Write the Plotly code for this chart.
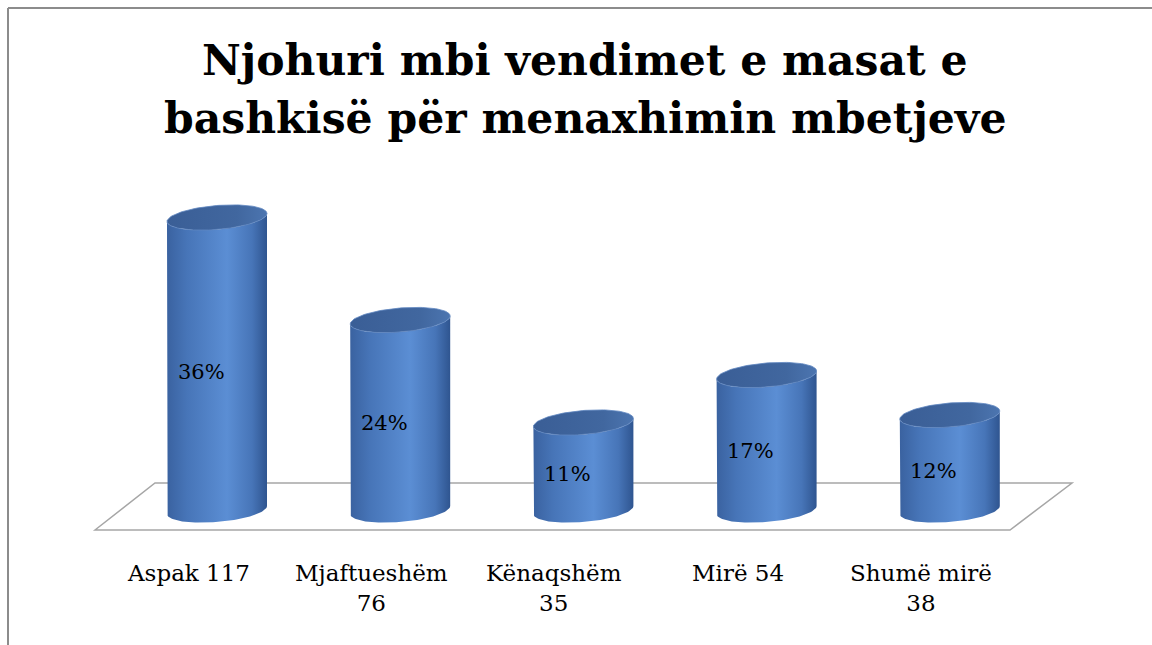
import numpy as np
import plotly.graph_objects as go

# ---- data ----
categories = ["Aspak 117", "Mjaftueshëm<br>76", "Kënaqshëm<br>35", "Mirë 54", "Shumë mirë<br>38"]
counts = [117, 76, 35, 54, 38]
pct_labels = ["36%", "24%", "11%", "17%", "12%"]
title_lines = ["Njohuri mbi vendimet e masat e", "bashkisë për menaxhimin mbetjeve"]

# ---- geometry (pixel scale helpers) ----
W, H = 1152, 645
X0_PX, DX_PX = 217.0, 183.2      # pixel of category 0, pixel step per category
Y0_PX, DY_PX = 510.0, 2.5        # pixel of value 0, pixels per unit
x_range = [(0 - X0_PX) / DX_PX, (W - X0_PX) / DX_PX]
y_range = [(Y0_PX - H) / DY_PX, (Y0_PX - 0) / DY_PX]

RX = 50 / DX_PX      # cylinder radius in x data units
RY = 12 / DY_PX      # ellipse half-height in y data units
SHEAR = 0.08 * 50 / DY_PX  # right side higher

body_scale = [[0, "#3a62a0"], [0.2, "#4775b8"], [0.6, "#5b8ed4"], [0.85, "#4775b8"], [1, "#2f5590"]]
top_scale = [[0, "#3a5e96"], [0.7, "#41679f"], [1, "#4c75b0"]]

fig = go.Figure()
t_front = np.linspace(np.pi, 2 * np.pi, 60)   # lower (front) half
t_full = np.linspace(0, 2 * np.pi, 120)

for i, v in enumerate(counts):
    c = float(i)
    bx = c + RX * np.cos(t_front)
    by = 0 + RY * np.sin(t_front) + SHEAR * np.cos(t_front)
    tx = (c + RX * np.cos(t_front))[::-1]
    ty = (v + RY * np.sin(t_front) + SHEAR * np.cos(t_front))[::-1]
    xs = np.concatenate([[c - RX], bx, tx])
    ys = np.concatenate([[v - SHEAR], by, ty])
    fig.add_trace(go.Scatter(
        x=xs, y=ys, mode="lines", fill="toself",
        line=dict(width=0, color="#3a62a0"),
        fillgradient=dict(type="horizontal", colorscale=body_scale),
        hoverinfo="skip", showlegend=False))
    ex = c + RX * np.cos(t_full)
    ey = v + RY * np.sin(t_full) + SHEAR * np.cos(t_full)
    fig.add_trace(go.Scatter(
        x=ex, y=ey, mode="lines", fill="toself",
        line=dict(width=0.8, color="#5f86c0"),
        fillgradient=dict(type="horizontal", colorscale=top_scale),
        hoverinfo="skip", showlegend=False))

# percentage labels inside cylinders
for i, v in enumerate(counts):
    fig.add_annotation(x=i, y=v / 2, text=pct_labels[i], showarrow=False,
                       xshift=-16, yshift=-8,
                       font=dict(family="DejaVu Serif", size=21, color="#000000"))

# category labels
for i, lab in enumerate(categories):
    fig.add_annotation(x=i, y=0, text=lab, showarrow=False,
                       xshift=-29, yshift=-48, yanchor="top",
                       font=dict(family="DejaVu Serif", size=23, color="#000000"))

# title
for k, line in enumerate(title_lines):
    fig.add_annotation(xref="paper", yref="paper", x=585 / W, y=1 - (60 + 58 * k) / H, text=line,
                       showarrow=False, yanchor="middle",
                       font=dict(family="DejaVu Serif", size=42.5, color="#000000", weight="bold"))

# floor (decorative parallelogram) and frame
def px(x, y):
    return x / W, 1 - y / H

pts = [px(95, 530), px(155, 483), px(1072, 483), px(1010, 530)]
path = "M " + " L ".join(f"{a},{b}" for a, b in pts) + " Z"
fig.add_shape(type="path", path=path, xref="paper", yref="paper",
              line=dict(color="#a6a6a6", width=1.5), fillcolor="rgba(255,255,255,0)", layer="below")
fig.add_shape(type="line", xref="paper", yref="paper", x0=8 / W, y0=1 - 8 / H, x1=1, y1=1 - 8 / H,
              line=dict(color="#8c8c8c", width=2))
fig.add_shape(type="line", xref="paper", yref="paper", x0=8 / W, y0=1 - 8 / H, x1=8 / W, y1=0,
              line=dict(color="#8c8c8c", width=2))

fig.update_layout(
    width=W, height=H,
    margin=dict(l=0, r=0, t=0, b=0),
    paper_bgcolor="white", plot_bgcolor="white",
    xaxis=dict(range=x_range, visible=False, fixedrange=True),
    yaxis=dict(range=y_range, visible=False, fixedrange=True),
)

fig.write_html("out.html", config={"displayModeBar": False},
               post_script="document.body.style.margin='0';")
